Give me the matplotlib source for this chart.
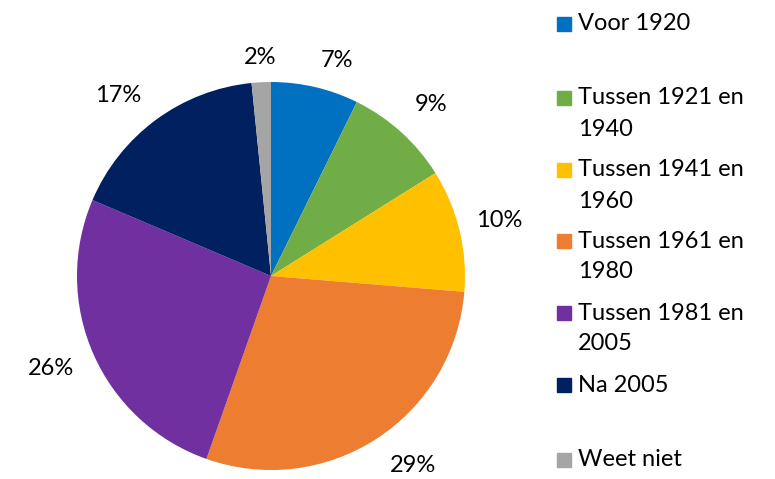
import numpy as np
import matplotlib.pyplot as plt
from matplotlib.patches import Rectangle

plt.rcParams['font.family'] = ['Lato', 'DejaVu Sans']

# --- data ---
categories = ['Voor 1920', 'Tussen 1921 en\n1940', 'Tussen 1941 en\n1960',
              'Tussen 1961 en\n1980', 'Tussen 1981 en\n2005', 'Na 2005', 'Weet niet']
shares = [7.3, 8.8, 10.2, 29.1, 26.0, 17.0, 1.6]
colors = ['#0070C0', '#70AD47', '#FFC000', '#ED7D31', '#7030A0', '#002060', '#A5A5A5']
legend_rows = [24, 98, 170, 241, 313, 385, 460]  # first-line centre, px from top

# label placement (radius factor, angle nudge in degrees)
label_dist = [1.16, 1.21, 1.21, 1.22, 1.23, 1.22, 1.13]
label_nudge = [-4, -1, 0, 4, -1, 4, 0]

W, H = 775, 479
fig = plt.figure(figsize=(W / 100, H / 100), dpi=100)

# pie centre (271, 276) px, radius 194 px
cx, cy, r = 271, 276, 194
ax = fig.add_axes([(cx - r) / W, (H - cy - r) / H, 2 * r / W, 2 * r / H])
wedges, texts, autotexts = ax.pie(
    shares, colors=colors, startangle=90, counterclock=False,
    autopct=lambda p: f'{p:.0f}%', pctdistance=1.2, radius=1,
    textprops={'fontsize': 17, 'color': 'black'})

for w, t, d, n in zip(wedges, autotexts, label_dist, label_nudge):
    ang = np.deg2rad((w.theta1 + w.theta2) / 2 + n)
    t.set_position((d * np.cos(ang), d * np.sin(ang)))

ax.set_xlim(-1, 1)
ax.set_ylim(-1, 1)
ax.set_aspect('equal')
ax.axis('off')

# legend drawn by hand so the uneven spacing matches
line_gap = 31
for label, col, y in zip(categories, colors, legend_rows):
    fig.patches.append(Rectangle((557 / W, (H - y - 7) / H), 14 / W, 14 / H,
                                 transform=fig.transFigure, color=col))
    for i, line in enumerate(label.split('\n')):
        fig.text(578 / W, (H - y - i * line_gap) / H, line, fontsize=17,
                 va='center', ha='left')

fig.savefig('out.png', dpi=100)
